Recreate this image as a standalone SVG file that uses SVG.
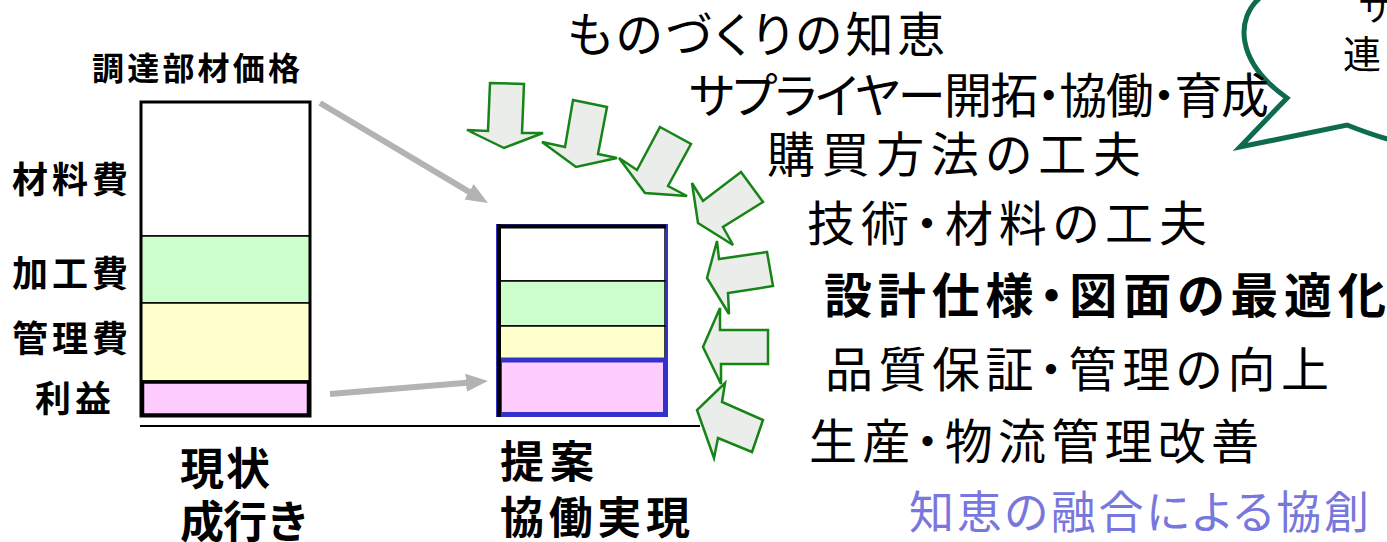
<svg xmlns="http://www.w3.org/2000/svg" width="1387" height="542" viewBox="0 0 1387 542">
<style>
text{font-family:"Noto Sans CJK JP","Noto Sans",sans-serif;fill:#000}
.lbl{font-size:36px;font-weight:700}
.bot{font-size:44px;font-weight:700}
.big{font-size:48px;font-feature-settings:"palt"}
.bold{font-weight:700}
.seg{stroke:#000;stroke-width:1.5}
.wh{fill:#fff}.gr{fill:#ccffcc}.ye{fill:#ffffcc}.pk{fill:#ffccff}
.gar{fill:#ebedea;stroke:#168416;stroke-width:2.5;stroke-linejoin:miter}
.conn{stroke:#b3b3b3;stroke-width:6;fill:none;marker-end:url(#ah)}
</style>
<defs>
<marker id="ah" markerUnits="userSpaceOnUse" markerWidth="22" markerHeight="20" refX="4" refY="9" orient="auto">
<path d="M0,0 L22,9 L0,18 z" fill="#b3b3b3"/>
</marker>
</defs>
<rect width="1387" height="542" fill="#fff"/>

<g id="callout">
<path d="M1262,-4 C1234,18 1236,62 1287,98 L1240,147 L1347,125 C1362,131 1375,136 1395,141" fill="#fff" stroke="#0e6b4f" stroke-width="5" stroke-linejoin="miter"/>
<text x="1358" y="21" style="font-size:36px">サ</text>
<text x="1343" y="68" style="font-size:38px">連</text>
</g>

<g id="bar-current">
<rect class="seg wh" x="141" y="102" width="169" height="134"/>
<rect class="seg gr" x="141" y="236" width="169" height="67"/>
<rect class="seg ye" x="141" y="303" width="169" height="78"/>
<rect class="pk" x="142.5" y="382" width="166" height="33" stroke="#000" stroke-width="3.5"/>
<rect x="141" y="102" width="169" height="314" fill="none" stroke="#000" stroke-width="3"/>
</g>

<g id="bar-proposal">
<rect x="497" y="225" width="170" height="191" fill="none" stroke="#3333cc" stroke-width="2"/>
<rect class="seg wh" x="499" y="227" width="166" height="54"/>
<rect class="seg gr" x="499" y="281" width="166" height="45"/>
<rect class="seg ye" x="499" y="326" width="166" height="33"/>
<rect class="pk" x="499.5" y="360" width="166" height="54.5" stroke="#3333cc" stroke-width="5"/>
<line x1="499" y1="224" x2="499" y2="417" stroke="#000" stroke-width="4"/>
<line x1="497" y1="226.5" x2="666" y2="226.5" stroke="#000" stroke-width="4"/>
</g>

<g id="baseline">
<line x1="140" y1="426" x2="700" y2="426" stroke="#000" stroke-width="2"/>
</g>

<g id="labels-left">
<text class="lbl" x="92" y="80" textLength="208" style="font-size:32px">調達部材価格</text>
<text class="lbl" x="12" y="193" textLength="116">材料費</text>
<text class="lbl" x="12" y="287" textLength="116">加工費</text>
<text class="lbl" x="12" y="352" textLength="116">管理費</text>
<text class="lbl" x="35" y="412" textLength="76">利益</text>
</g>

<g id="labels-bottom">
<text class="bot" x="180" y="485" textLength="90">現状</text>
<text class="bot" x="180" y="538" textLength="130">成行き</text>
<text class="bot" x="500" y="478" textLength="94">提案</text>
<text class="bot" x="500" y="534" textLength="190">協働実現</text>
</g>

<g id="connectors">
<line class="conn" x1="320" y1="103" x2="472.5" y2="193.8"/>
<line class="conn" x1="330" y1="394" x2="470" y2="382.4"/>
</g>

<g id="green-arrows">
<polygon class="gar" points="490,83 524,84 522,133 543,133 504,148 467,130 488,131"/>
<polygon class="gar" points="573,100 607,107 598,154 617,158 576,167 542,142 565,147"/>
<polygon class="gar" points="660,127 691,144 668,186 687,196 645,193 619,158 637,170"/>
<polygon class="gar" points="741,172 763,202 723,227 733,245 698,223 692,183 703,201"/>
<polygon class="gar" points="767,252 773,286 728,293 729,314 707,278 717,241 719,259"/>
<polygon class="gar" points="768,330 768,364 721,364 721,384 703,347 720,308 720,330"/>
<polygon class="gar" points="725,383 722,402 763,420 752,452 718,438 714,458 697,410"/>
</g>

<g id="ideas">
<text class="big" x="567" y="52" textLength="378">ものづくりの知恵</text>
<text class="big" x="689" y="113" textLength="580">サプライヤー開拓・協働・育成</text>
<text class="big" x="767" y="172" textLength="374">購買方法の工夫</text>
<text class="big" x="807" y="241" textLength="400">技術・材料の工夫</text>
<text class="big bold" x="824" y="313" textLength="562">設計仕様・図面の最適化</text>
<text class="big" x="825" y="387" textLength="504">品質保証・管理の向上</text>
<text class="big" x="809" y="459" textLength="450">生産・物流管理改善</text>
<text class="big" x="909" y="529" textLength="460" style="fill:#7777dd;font-size:45px">知恵の融合による協創</text>
</g>
</svg>
